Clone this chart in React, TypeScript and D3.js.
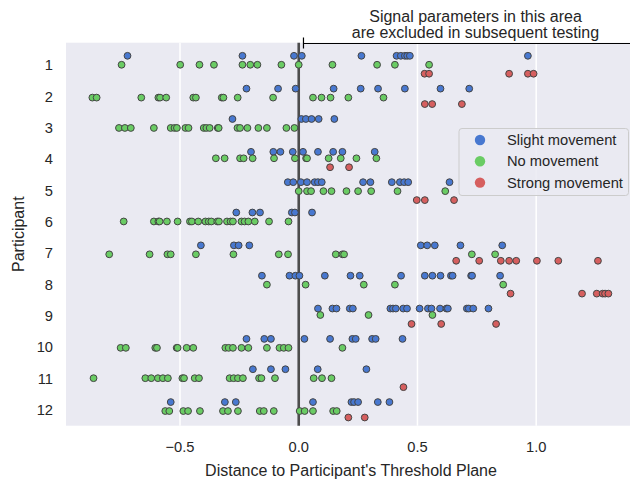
import { useRef, useEffect } from "react";
import * as d3 from "d3";

// Participants 1..12 (categorical y axis)
const participants = ["1", "2", "3", "4", "5", "6", "7", "8", "9", "10", "11", "12"];
const hueLabels = ["Slight movement", "No movement", "Strong movement"];
const hueColors = ["#4878d0", "#6acc64", "#d65f5f"];
const xTicks = [-0.5, 0.0, 0.5, 1.0];

// Distance to threshold plane, one list per participant
const slight: number[][] = [
  [-0.721, -0.237, -0.02, 0.013, 0.264, 0.412, 0.43, 0.447, 0.457, 0.468, 0.965],
  [-0.22, -0.087, -0.013, 0.147, 0.261, 0.334, 0.447, 0.597, 0.718],
  [-0.279, 0.011, 0.03, 0.054, 0.084, 0.15],
  [-0.201, -0.107, -0.077, -0.025, 0.018, 0.081, 0.145, 0.184, 0.32],
  [-0.046, -0.023, 0.009, 0.035, 0.067, 0.081, 0.097, 0.271, 0.302, 0.392, 0.426, 0.444, 0.461, 0.635],
  [-0.263, -0.195, -0.163, -0.029, -0.016, 0.056],
  [-0.412, -0.273, -0.253, -0.208, 0.514, 0.541, 0.573, 0.681, 0.857],
  [-0.155, -0.039, -0.014, 0.003, 0.11, 0.218, 0.257, 0.431, 0.531, 0.563, 0.597, 0.641, 0.648, 0.726, 0.73, 0.848],
  [0.081, 0.142, 0.159, 0.215, 0.228, 0.386, 0.397, 0.409, 0.44, 0.456, 0.509, 0.544, 0.559, 0.595, 0.622, 0.628, 0.708, 0.716, 0.735, 0.799],
  [-0.22, -0.145, -0.117, 0.024, 0.132, 0.226, 0.24, 0.309, 0.324, 0.437],
  [-0.193, -0.117, -0.056, 0.08, 0.285],
  [-0.539, -0.311, -0.265, 0.06, 0.222, 0.233, 0.25, 0.333, 0.382],
];

const none: number[][] = [
  [-0.746, -0.499, -0.418, -0.357, -0.237, -0.204, -0.174, -0.073, 0.0, 0.142, 0.33, 0.405, 0.549],
  [-0.869, -0.851, -0.663, -0.591, -0.584, -0.558, -0.444, -0.433, -0.324, -0.317, -0.257, -0.108, 0.06, 0.096, 0.134, 0.209, 0.357],
  [-0.757, -0.732, -0.707, -0.61, -0.539, -0.523, -0.513, -0.477, -0.464, -0.4, -0.389, -0.375, -0.341, -0.337, -0.258, -0.247, -0.216, -0.17, -0.134, -0.052, -0.018],
  [-0.349, -0.312, -0.247, -0.232, -0.194, -0.104, -0.016, 0.031, 0.035, 0.126, 0.177, 0.243, 0.327],
  [0.0, 0.035, 0.052, 0.104, 0.138, 0.201, 0.25, 0.305, 0.416, 0.617],
  [-0.737, -0.61, -0.591, -0.586, -0.555, -0.51, -0.458, -0.45, -0.423, -0.393, -0.379, -0.368, -0.343, -0.336, -0.302, -0.287, -0.277, -0.241, -0.228, -0.212, -0.185, -0.125, -0.043],
  [-0.798, -0.628, -0.553, -0.539, -0.433, -0.275, -0.084, -0.045, 0.156, 0.184, 0.191, 0.729, 0.827],
  [-0.134, 0.029, 0.274, 0.405, 0.861],
  [0.091, 0.294, 0.563],
  [-0.75, -0.728, -0.604, -0.597, -0.514, -0.51, -0.472, -0.444, -0.309, -0.295, -0.277, -0.241, -0.212, -0.134, -0.081, -0.063, -0.043, 0.184],
  [-0.864, -0.646, -0.621, -0.593, -0.572, -0.551, -0.49, -0.483, -0.438, -0.42, -0.291, -0.274, -0.256, -0.235, -0.167, -0.157, -0.1, 0.063, 0.098, 0.138],
  [-0.562, -0.545, -0.486, -0.466, -0.416, -0.319, -0.298, -0.256, -0.164, -0.147, -0.105, 0.004, 0.025, 0.06, 0.145, 0.16],
];

const strong: number[][] = [
  [0.53, 0.549, 0.886, 0.965, 0.989],
  [0.531, 0.562, 0.687],
  [],
  [0.132, 0.212],
  [0.497, 0.531, 0.654],
  [],
  [0.663, 0.76, 0.851, 0.886, 0.916, 1.003, 1.093, 1.26],
  [0.892, 1.193, 1.255, 1.28, 1.29, 1.304],
  [0.475, 0.6, 0.831],
  [],
  [0.441],
  [0.209, 0.278],
];

const W = 630;
const H = 483;
const FONT = "Liberation Sans, Arial, sans-serif";

export default function App() {
  const svgRef = useRef<SVGSVGElement>(null);

  useEffect(() => {
    if (!svgRef.current) return;
    const svg = d3.select(svgRef.current);
    svg.selectAll("*").remove();

    const left = 66, right = 630, top = 42.7, bottom = 425.7;
    const x = d3.scaleLinear().domain([-0.98, 1.395]).range([left, right]);
    const y = d3.scaleLinear().domain([-0.72, 11.5]).range([top, bottom]);
    const dodge = [-0.27, 0, 0.27];

    svg.append("rect")
      .attr("x", left).attr("y", top)
      .attr("width", right - left).attr("height", bottom - top)
      .attr("fill", "#eaeaf2");

    // vertical grid
    svg.append("g")
      .selectAll("line")
      .data(xTicks)
      .join("line")
      .attr("x1", (d) => x(d)).attr("x2", (d) => x(d))
      .attr("y1", top).attr("y2", bottom)
      .attr("stroke", "#fff").attr("stroke-width", 1.5);

    // zero line
    svg.append("line")
      .attr("x1", x(0)).attr("x2", x(0))
      .attr("y1", top).attr("y2", bottom)
      .attr("stroke", "#4d4d4d").attr("stroke-width", 2.6);

    // points
    const series = [slight, none, strong];
    const pts: { v: number; p: number; h: number; j: number }[] = [];
    participants.forEach((_, p) => {
      series.forEach((s, h) => {
        s[p].forEach((v, i) => {
          pts.push({ v, p, h, j: (((i * 5 + p * 3 + h) % 5) - 2) * 0.5 });
        });
      });
    });

    svg.append("g")
      .selectAll("circle")
      .data(pts)
      .join("circle")
      .attr("cx", (d) => x(d.v))
      .attr("cy", (d) => y(d.p + dodge[d.h]) + d.j)
      .attr("r", 3.4)
      .attr("fill", (d) => hueColors[d.h])
      .attr("stroke", "#444")
      .attr("stroke-width", 1);

    // x tick labels
    svg.append("g")
      .selectAll("text")
      .data(xTicks)
      .join("text")
      .attr("x", (d) => x(d))
      .attr("y", 452)
      .attr("text-anchor", "middle")
      .attr("font-family", FONT)
      .attr("font-size", "14.7px")
      .attr("fill", "#262626")
      .text((d) => d3.format(".1f")(d).replace("-", "\u2212"));

    // y tick labels
    svg.append("g")
      .selectAll("text")
      .data(participants)
      .join("text")
      .attr("x", 53)
      .attr("y", (_, i) => y(i))
      .attr("dy", "0.35em")
      .attr("text-anchor", "end")
      .attr("font-family", FONT)
      .attr("font-size", "14.7px")
      .attr("fill", "#262626")
      .text((d) => d);

    // axis labels
    svg.append("text")
      .attr("x", (left + right) / 2 + 3)
      .attr("y", 476)
      .attr("text-anchor", "middle")
      .attr("font-family", FONT)
      .attr("font-size", "16px")
      .attr("fill", "#262626")
      .text("Distance to Participant's Threshold Plane");

    svg.append("text")
      .attr("transform", `translate(24,${(top + bottom) / 2}) rotate(-90)`)
      .attr("text-anchor", "middle")
      .attr("font-family", FONT)
      .attr("font-size", "16px")
      .attr("fill", "#262626")
      .text("Participant");

    // annotation bracket
    const bx = x(0.02);
    svg.append("line")
      .attr("x1", bx).attr("x2", W + 5)
      .attr("y1", 43.5).attr("y2", 43.5)
      .attr("stroke", "#000").attr("stroke-width", 1.2);
    svg.append("line")
      .attr("x1", bx).attr("x2", bx)
      .attr("y1", 37.5).attr("y2", 48.5)
      .attr("stroke", "#000").attr("stroke-width", 1.2);
    const ann = svg.append("text")
      .attr("text-anchor", "middle")
      .attr("font-family", FONT)
      .attr("font-size", "16px")
      .attr("fill", "#262626");
    ann.append("tspan").attr("x", 475.5).attr("y", 21.5).text("Signal parameters in this area");
    ann.append("tspan").attr("x", 475.5).attr("y", 37.5).text("are excluded in subsequent testing");

    // legend
    const lg = svg.append("g");
    lg.append("rect")
      .attr("x", 459).attr("y", 128.5)
      .attr("width", 169.5).attr("height", 67)
      .attr("rx", 3)
      .attr("fill", "#eaeaf2").attr("fill-opacity", 0.85)
      .attr("stroke", "#cccccc").attr("stroke-width", 1);
    hueLabels.forEach((lab, i) => {
      const ly = 140 + i * 21.3;
      lg.append("circle").attr("cx", 480).attr("cy", ly).attr("r", 5.2).attr("fill", hueColors[i]);
      lg.append("text")
        .attr("x", 507).attr("y", ly).attr("dy", "0.35em")
        .attr("font-family", FONT).attr("font-size", "14.7px").attr("fill", "#262626")
        .text(lab);
    });
  }, []);

  return (
    <svg
      ref={svgRef}
      width={W}
      height={H}
      style={{ position: "absolute", left: 0, top: 0, background: "#fff" }}
    />
  );
}
